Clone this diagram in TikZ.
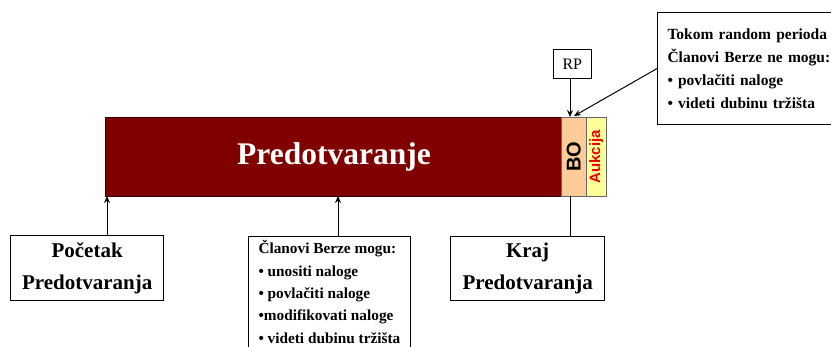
\documentclass[tikz,border=0pt]{standalone}
\usepackage{fontspec}
\setmainfont{Liberation Serif}
\newfontfamily\arialf{Liberation Sans}
\usetikzlibrary{arrows.meta}
\definecolor{barred}{HTML}{800000}
\definecolor{peach}{HTML}{FFCC99}
\definecolor{paleyel}{HTML}{FFFF99}
\definecolor{aukred}{HTML}{E60000}
\tikzset{
  box/.style={draw=black, line width=1.3pt, fill=white, inner sep=0pt, font=\bfseries\fontsize{21}{32}\selectfont, align=center},
  notebox/.style={draw=black, line width=1pt, fill=white, anchor=north west, align=left, inner xsep=10pt, inner ysep=6pt, font=\bfseries\fontsize{15.5}{23}\selectfont},
  arr/.style={line width=1pt, -{Stealth[length=7pt,width=6pt]}},
  plain/.style={line width=1pt},
}
\begin{document}
\begin{tikzpicture}[x=1pt,y=-1pt]
\useasboundingbox (0,0) rectangle (831,347);
% main bar
\node[draw=black!60!barred, fill=barred, line width=0.5pt, minimum width=456pt, minimum height=79pt, inner sep=0pt, anchor=north west] (bar) at (105,117) {};
\node[text=white, font=\bfseries\fontsize{31.5}{36}\selectfont] (title) at (334,157) {Predotvaranje};
\node[draw=black!60, fill=peach, line width=0.5pt, minimum width=25pt, minimum height=79pt, inner sep=0pt, anchor=north west] (bo) at (561,117) {};
\node[rotate=90, font=\arialf\bfseries\fontsize{20}{24}\selectfont] (bot) at (bo.center) {BO};
\node[draw=black!60, fill=paleyel, line width=0.5pt, minimum width=20pt, minimum height=79pt, inner sep=0pt, anchor=north west] (auk) at (586,117) {};
\node[rotate=90, text=aukred, font=\arialf\bfseries\fontsize{15}{18}\selectfont] (aukt) at (auk.center) {Aukcija};
% RP
\node[draw=black, line width=0.7pt, fill=white, minimum width=38pt, minimum height=29pt, inner sep=0pt, anchor=north west, font=\fontsize{16}{18}\selectfont] (rp) at (553,49) {RP};
% bottom boxes
\node[box, minimum width=153pt, minimum height=65pt, anchor=north west] (poc) at (10,235) {Početak\\Predotvaranja};
\node[box, minimum width=154pt, minimum height=64pt, anchor=north west] (kraj) at (450,236) {Kraj\\Predotvaranja};
\node[notebox, minimum width=159pt, inner ysep=4pt, font=\bfseries\fontsize{15.3}{22.4}\selectfont] (mid) at (248,236) {Članovi Berze mogu:\\• unositi naloge\\• povlačiti naloge\\•modifikovati naloge\\• videti dubinu tržišta\\ };
\node[notebox, text width=170pt, inner ysep=16pt] (note) at (657,12) {Tokom random perioda\\Članovi Berze ne mogu:\\• povlačiti naloge\\• videti dubinu tržišta};
% connectors
\coordinate (p1) at (107,196);
\coordinate (p2) at (338,196);
\coordinate (p3) at (570,196);
\coordinate (p4) at (570,117);
\coordinate (p5) at (574,116);
\coordinate (n1) at (658,68);
\draw[arr] (p1 |- poc.north) -- (p1);
\draw[arr] (p2 |- mid.north) -- (p2);
\draw[plain] (p3 |- kraj.north) -- (p3);
\draw[arr] (rp.south -| p4) -- (p4);
\draw[arr] (n1) -- (p5);
\end{tikzpicture}
\end{document}
